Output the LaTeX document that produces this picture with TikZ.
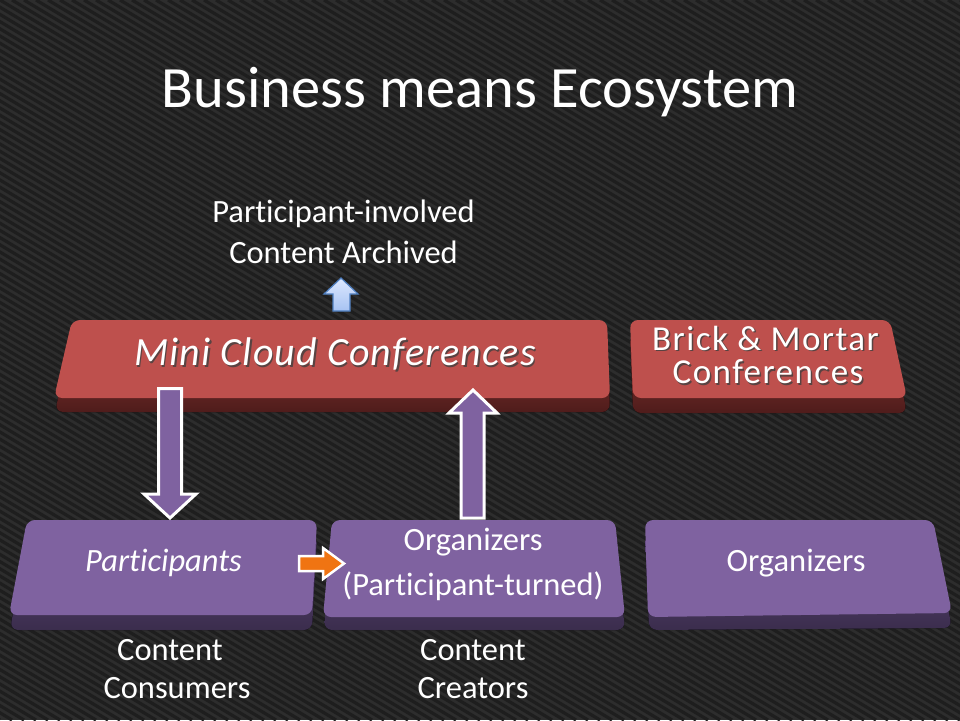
\documentclass[tikz,border=0pt]{standalone}
\usepackage{fontspec}
\setmainfont{Carlito}[Ligatures={NoCommon}]
\newfontfamily\minifamily{Carlito}[Ligatures={NoCommon},LetterSpace=2.8]
\newfontfamily\brickfamily{Carlito}[Ligatures={NoCommon},LetterSpace=4.2]
\definecolor{bgc}{HTML}{2D2D2D}
\definecolor{stripec}{HTML}{1E1E1E}
\definecolor{redface}{HTML}{BE504D}
\definecolor{redbandtop}{HTML}{8E3836}
\definecolor{redbandbot}{HTML}{4F1C1B}
\definecolor{purface}{HTML}{7F62A0}
\definecolor{purbandtop}{HTML}{5E4879}
\definecolor{purbandbot}{HTML}{3B2D4D}
\definecolor{orangec}{HTML}{F07412}
\definecolor{bluetop}{HTML}{DDE8FF}
\definecolor{bluebot}{HTML}{A7C3F2}
\definecolor{blueedge}{HTML}{4F7FC0}
\begin{document}
\begin{tikzpicture}[x=1pt,y=-1pt,
  stripe/.style={draw=stripec,line width=3.2pt},
  txt/.style={text=white,inner sep=0pt,font=\fontsize{32.5}{36}\selectfont},
  shadowtxt/.style={text=black!75,inner sep=0pt,opacity=0.8},
  redfacestyle/.style={fill=redface,rounded corners=8},
  redband/.style={top color=redbandtop,bottom color=redbandbot,rounded corners=8},
  purfacestyle/.style={fill=purface,rounded corners=8},
  purband/.style={top color=purbandtop,bottom color=purbandbot,rounded corners=8},
  blockarrow/.style={fill=purface,draw=white,line width=3pt,line join=miter},
  minifont/.style={font=\minifamily\fontsize{40}{43}\selectfont\itshape},
  brickfont/.style={font=\brickfamily\fontsize{35}{38}\selectfont},
]
\useasboundingbox (0,0) rectangle (960,720);
\fill[bgc] (0,0) rectangle (960,720);
\begin{scope}
\clip (0,0) rectangle (960,720);
\foreach \c in {-1200,-1188,...,960} \draw[stripe] (\c,0) -- ++(1200,720);
\end{scope}

% title
\node[txt,font=\fontsize{58.5}{62}\selectfont] (title) at (480,92) {Business means Ecosystem};

% red slabs
\fill[redband] (72,334) -- (607,334) -- (610,412) -- (55,412) -- cycle;
\fill[redfacestyle] (72,320) -- (607,320) -- (610,398) -- (54,398) -- cycle;
\fill[redband] (630,334) -- (890,334) -- (907,413) -- (633,413) -- cycle;
\fill[redfacestyle] (630,320) -- (890,320) -- (907,398) -- (633,398) -- cycle;

% purple slabs
\fill[purband] (27,535) -- (317,535) -- (312,630) -- (10,630) -- cycle;
\fill[purfacestyle] (27,520) -- (317,520) -- (312,615) -- (9,615) -- cycle;
\fill[purband] (332,533) -- (615,533) -- (625,630) -- (324,630) -- cycle;
\fill[purfacestyle] (332,520) -- (615,520) -- (625,617) -- (323,617) -- cycle;
\fill[purband] (645,535) -- (933,535) -- (952,628) -- (649,630) -- cycle;
\fill[purfacestyle] (645,520) -- (933,520) -- (952,613) -- (648,617) -- cycle;

% slab texts
\node[shadowtxt,minifont] at (336.5,355.5) {Mini Cloud Conferences};
\node[txt,minifont] (mini) at (335,354) {Mini Cloud Conferences};
\node[shadowtxt,brickfont] at (767,339.5) {Brick \& Mortar};
\node[txt,brickfont] (brick1) at (765.5,338) {Brick \& Mortar};
\node[shadowtxt,brickfont] at (769.5,373.5) {Conferences};
\node[txt,brickfont] (brick2) at (768,372) {Conferences};

\node[txt,font=\fontsize{32.5}{36}\selectfont\itshape] (part) at (163.5,563) {Participants};
\node[txt] (org1) at (473,542) {Organizers};
\node[txt] (org1b) at (473,586) {(Participant-turned)};
\node[txt] (org2) at (796,563) {Organizers};

% labels
\node[txt] (arch1) at (343.5,214) {Participant-involved};
\node[txt] (arch2) at (343.5,252) {Content Archived};
\node[txt] (cons1) at (170,650) {Content};
\node[txt] (cons2) at (177,688) {Consumers};
\node[txt] (crea1) at (473,650) {Content};
\node[txt] (crea2) at (473,688) {Creators};

% block arrows
\draw[blockarrow] (158.5,388.5) -- (181.5,388.5) -- (181.5,494) -- (196,494) -- (170,518)
  -- (144,494) -- (158.5,494) -- cycle;
\draw[blockarrow] (473,390) -- (497,413) -- (484,413) -- (484,518) -- (461,518) -- (461,413)
  -- (449,413) -- cycle;
\draw[fill=orangec,draw=white,line width=2.5pt,line join=miter] (299,556) -- (323,556) -- (323,548)
  -- (344,563.5) -- (323,579) -- (323,571) -- (299,571) -- cycle;
\draw[top color=bluetop,bottom color=bluebot,draw=blueedge,line width=1.2pt,line join=miter]
  (341,278) -- (358,294) -- (350,294) -- (350,311) -- (333,311) -- (333,294) -- (324,294) -- cycle;
\end{tikzpicture}
\end{document}
